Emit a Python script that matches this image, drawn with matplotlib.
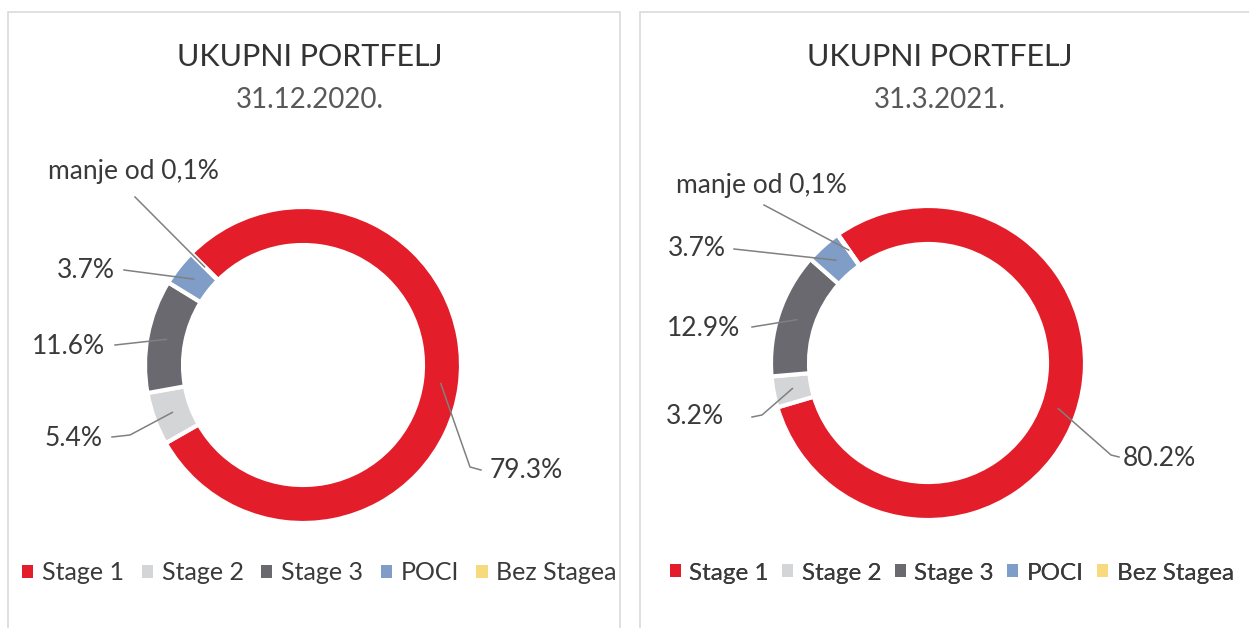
import matplotlib.pyplot as plt
from matplotlib.patches import Rectangle, Patch
import numpy as np

plt.rcParams['font.family'] = ['Lato', 'DejaVu Sans']

W, H = 1249, 628

categories = ["Stage 1", "Stage 2", "Stage 3", "POCI", "Bez Stagea"]
colors = ["#E31E2A", "#D3D5D6", "#6A6970", "#7F9DC7", "#F7D97E"]
title = "UKUPNI PORTFELJ"
dates = ["31.12.2020.", "31.3.2021."]

# share of portfolio (%), "Bez Stagea" is below 0.1%
values_2020 = [79.3, 5.4, 11.6, 3.7, 0.05]
values_2021 = [80.2, 3.2, 12.9, 3.7, 0.05]
labels_2020 = ["79.3%", "5.4%", "11.6%", "3.7%", "manje od 0,1%"]
labels_2021 = ["80.2%", "3.2%", "12.9%", "3.7%", "manje od 0,1%"]

# layout in pixels, y measured from the top
panels = [
    dict(values=values_2020, labels=labels_2020, date=dates[0],
         box=(8, 12), box_w=612, title_x=310,
         center=(303, 365), radius=158, start=135,
         text=[(490, 470, "left"), (103, 438, "right"), (105, 347, "right"),
               (115, 271, "right"), (133, 172, "center")],
         lines=[[(481, 470), (470, 467)], [(112, 437), (130, 435)], [(115, 345)],
                [(124, 270)], [(135, 197)]],
         legend_x=22, legend_fs=18, legend_cs=0.7),
    dict(values=values_2021, labels=labels_2021, date=dates[1],
         box=(640, 12), box_w=640, title_x=940,
         center=(928, 363), radius=157, start=125,
         text=[(1123, 459, "left"), (724, 417, "right"), (740, 329, "right"),
               (726, 249, "right"), (761, 185, "center")],
         lines=[[(1119, 457), (1111, 455)], [(752, 417), (762, 415)], [(752, 327)],
                [(734, 249)], [(764, 205)]],
         legend_x=670, legend_fs=17.5, legend_cs=0.55),
]

ring = 38
txt = "#3A3A3A"

fig = plt.figure(figsize=(W / 100, H / 100), dpi=100)
ax = fig.add_axes([0, 0, 1, 1])

for p in panels:
    bx, by = p["box"]
    ax.add_patch(Rectangle((bx, -10), p["box_w"], H - by + 10, fill=False,
                           edgecolor="#DADADA", linewidth=1.2))
    cx, cy = p["center"]
    wedges, _ = ax.pie(p["values"], colors=colors, startangle=p["start"],
                       counterclock=False, center=(cx, H - cy), radius=p["radius"],
                       wedgeprops=dict(width=ring, edgecolor="white", linewidth=3))
    ax.text(p["title_x"], H - 57, title, ha="center", va="center",
            fontsize=22, color="#333333")
    ax.text(p["title_x"], H - 100, p["date"], ha="center", va="center",
            fontsize=20, color="#595959")

    r_mid = p["radius"] - ring / 2
    for w, lab, (tx, ty, ha), pts in zip(wedges, p["labels"], p["text"], p["lines"]):
        ang = np.deg2rad((w.theta1 + w.theta2) / 2)
        ax_, ay_ = cx + r_mid * np.cos(ang), (H - cy) + r_mid * np.sin(ang)
        xs = [q[0] for q in pts] + [ax_]
        ys = [H - q[1] for q in pts] + [ay_]
        ax.plot(xs, ys, color="#808080", linewidth=1.1)
        ax.text(tx, H - ty, lab, ha=ha, va="center", fontsize=19, color=txt)

    handles = [Patch(facecolor=c) for c in colors]
    leg = ax.legend(handles, categories, loc="center left",
                    bbox_to_anchor=(p["legend_x"] / W, 1 - 573 / H), ncol=5,
                    frameon=False, fontsize=p["legend_fs"], handlelength=0.45,
                    handleheight=0.45, handletextpad=0.35,
                    columnspacing=p["legend_cs"], borderaxespad=0,
                    borderpad=0, labelcolor=txt)
    ax.add_artist(leg)

ax.set_xlim(0, W)
ax.set_ylim(0, H)
ax.set_aspect("equal")
ax.axis("off")

fig.savefig("out.png", dpi=100)
